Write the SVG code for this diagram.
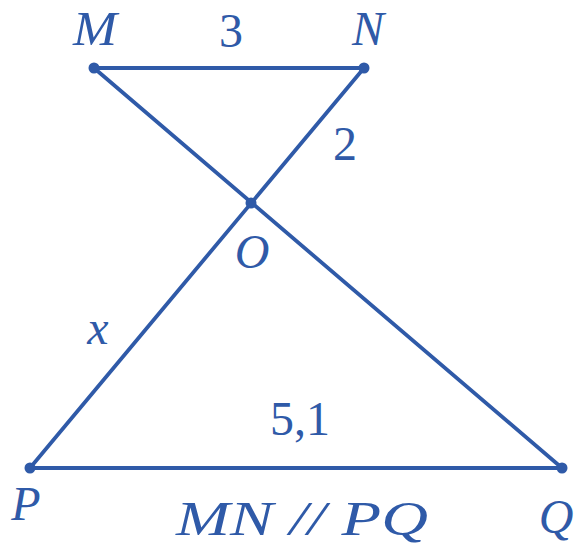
<svg xmlns="http://www.w3.org/2000/svg" width="577" height="548" viewBox="0 0 577 548">
<style>
.ln{stroke:#2f5aa8;stroke-width:3.8;stroke-linecap:round;fill:none}
.pt{fill:#2f5aa8}
.t{fill:#2f5aa8;font-family:"Liberation Serif","DejaVu Serif",serif;font-size:48px;text-anchor:middle}
.i{font-style:italic}
</style>
<rect width="577" height="548" fill="#fff"/>
<g id="connectors">
<line class="ln" x1="94" y1="68" x2="364" y2="68"/>
<line class="ln" x1="94" y1="68" x2="562" y2="468"/>
<line class="ln" x1="364" y1="68" x2="30" y2="468"/>
<line class="ln" x1="30" y1="468" x2="562" y2="468"/>
</g>
<g id="M"><circle class="pt" cx="94" cy="68" r="5.5"/><text class="t i" x="95" y="45" textLength="44" lengthAdjust="spacingAndGlyphs">M</text></g>
<g id="N"><circle class="pt" cx="364" cy="68" r="5.5"/><text class="t i" x="368" y="45">N</text></g>
<g id="O"><circle class="pt" cx="251" cy="203" r="5.5"/><text class="t i" x="252" y="268">O</text></g>
<g id="P"><circle class="pt" cx="30" cy="468" r="5.5"/><text class="t i" x="26" y="520">P</text></g>
<g id="Q"><circle class="pt" cx="562" cy="468" r="5.5"/><text class="t i" x="556" y="533" font-size="52">Q</text></g>
<g id="labels">
<text class="t" x="231" y="47">3</text>
<text class="t" x="345" y="160">2</text>
<text class="t i" x="98" y="344">x</text>
<text class="t" x="300" y="435">5,1</text>
<text class="t i" x="302" y="535" font-size="58" textLength="252" lengthAdjust="spacingAndGlyphs">MN // PQ</text>
</g>
</svg>
